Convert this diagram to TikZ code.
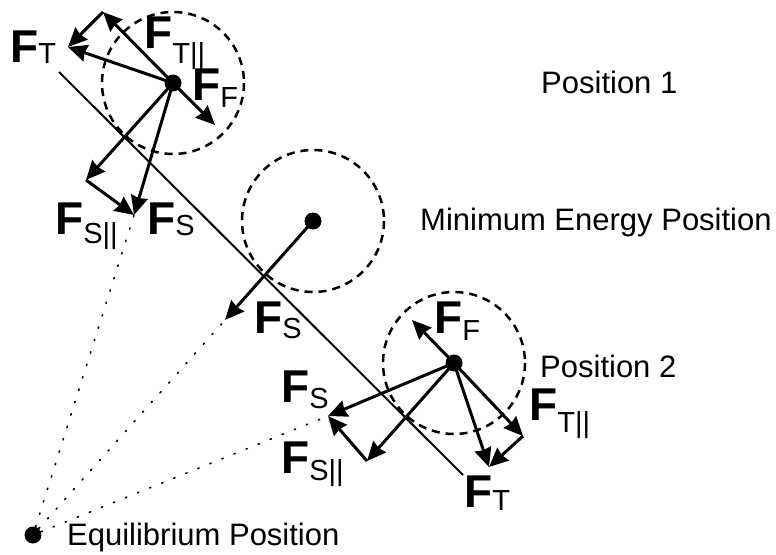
\documentclass[tikz,border=0pt]{standalone}
\usepackage{fontspec}
\setmainfont{Liberation Sans}
\usetikzlibrary{arrows.meta}

% force label: bold F with a lowered subscript
\newcommand{\flab}[2]{{\fontsize{46}{46}\selectfont\bfseries F}\raisebox{-#2pt}{\fontsize{29}{29}\selectfont #1}}

\begin{document}
\begin{tikzpicture}[x=1pt,y=-1pt,
 dot/.style={circle,fill=black,inner sep=0pt,minimum size=17pt},
 reachring/.style={draw,line width=2.5pt,dash pattern=on 8pt off 6pt},
 arrow/.style={-{Stealth[length=19pt,width=17pt,inset=1.5pt]},line width=3pt},
 trail/.style={line width=1.6pt,dash pattern=on 1.4pt off 11.6pt,line cap=round},
 lab/.style={anchor=base west,inner sep=0pt,font=\fontsize{31}{31}\selectfont}
]
\useasboundingbox (0,0) rectangle (776,554);
% pendulum positions
\node[dot] (p1) at (173,83) {};
\node[dot] (pm) at (313,221) {};
\node[dot] (p2) at (454,363) {};
\node[dot] (eq) at (33,535) {};
\draw[reachring] (p1) circle[radius=71];
\draw[reachring] (pm) circle[radius=71];
\draw[reachring] (p2) circle[radius=71];
% the rod
\coordinate (rodA) at (59,72);
\coordinate (rodB) at (463,475);
\draw[line width=2pt] (rodA) -- (rodB);
% vector tips
\coordinate (ff1) at (215,125);
\coordinate (ft1) at (68,47);
\coordinate (ct1) at (103,12);
\coordinate (fs1) at (134,215);
\coordinate (cs1) at (86,180);
\coordinate (fsm) at (225,320);
\coordinate (ff2) at (412,320);
\coordinate (fs2) at (328,416);
\coordinate (cs2) at (367,461);
\coordinate (ft2) at (489,467);
\coordinate (ct2) at (523,436);
% lines back to the equilibrium point
\draw[trail] (eq) -- (fs1);
\draw[trail] (eq) -- (fsm);
\draw[trail] (eq) -- (fs2);
% position 1
\draw[arrow] (p1.center) -- (ff1);
\draw[arrow] (p1.center) -- (ft1);
\draw[arrow] (p1.center) -- (ct1);
\draw[arrow] (ct1) -- (ft1);
\draw[arrow] (p1.center) -- (fs1);
\draw[arrow] (p1.center) -- (cs1);
\draw[arrow] (cs1) -- (fs1);
% minimum energy position
\draw[arrow] (pm.center) -- (fsm);
% position 2
\draw[arrow] (p2.center) -- (ff2);
\draw[arrow] (p2.center) -- (fs2);
\draw[arrow] (p2.center) -- (cs2);
\draw[arrow] (cs2) -- (fs2);
\draw[arrow] (p2.center) -- (ft2);
\draw[arrow] (p2.center) -- (ct2);
\draw[arrow] (ct2) -- (ft2);
% force labels
\node[lab] (lft1) at (10,62) {\flab{T}{1}};
\node[lab] (lct1) at (144,48) {\flab{T||}{15}};
\node[lab] (lff1) at (192,100) {\flab{F}{7}};
\node[lab] (lcs1) at (55,234) {\flab{S||}{9}};
\node[lab] (lfs1) at (147,234) {\flab{S}{1}};
\node[lab] (lfsm) at (254,333) {\flab{S}{5}};
\node[lab] (lff2) at (434,333) {\flab{F}{7}};
\node[lab] (lfs2) at (281,402) {\flab{S}{6}};
\node[lab] (lcs2) at (281,473) {\flab{S||}{7}};
\node[lab] (lft2) at (464,507) {\flab{T}{3}};
\node[lab] (lct2) at (529,420) {\flab{T||}{12}};
% position names
\node[lab] (n1) at (541,93) {Position 1};
\node[lab] (nm) at (420,230) {Minimum Energy Position};
\node[lab] (n2) at (540,377) {Position 2};
\node[lab] (ne) at (67,545) {Equilibrium Position};
\end{tikzpicture}
\end{document}
